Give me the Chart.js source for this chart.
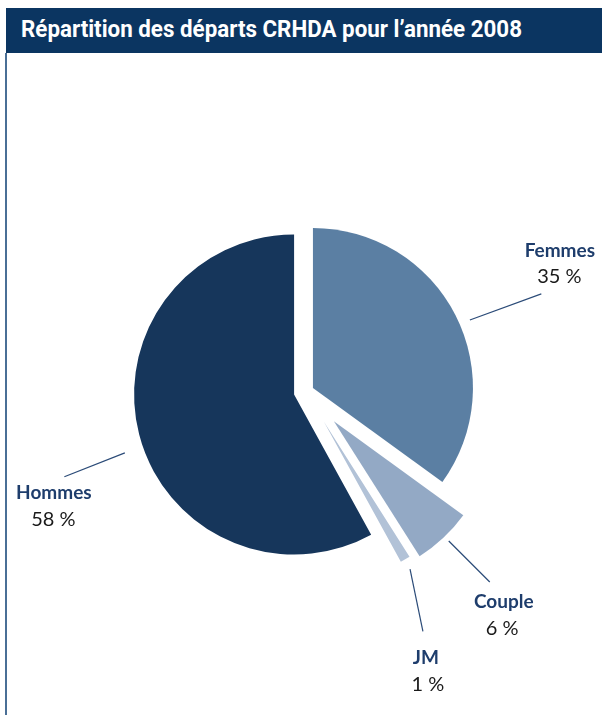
<!DOCTYPE html>
<html lang="fr">
<head>
<meta charset="utf-8">
<title>Répartition des départs CRHDA pour l’année 2008</title>
<script src="https://cdn.jsdelivr.net/npm/chart.js@4.4.1/dist/chart.umd.min.js"></script>
<style>
  html, body { margin: 0; padding: 0; background: #fff; }
  #page { position: relative; width: 602px; height: 715px; overflow: hidden; }
  #bandeau { position: absolute; left: 6px; top: 8px; width: 596px; height: 45px; background: #0b3561; }
  #titre { position: absolute; left: 21px; top: 18px; margin: 0; font: 700 23px/23px Roboto, "DejaVu Sans Condensed", sans-serif; color: #fff; white-space: nowrap; transform-origin: 0 0; }
  #filet { position: absolute; left: 5px; top: 53px; width: 2px; height: 662px; background: #4a6f96; }
  #graphique { position: absolute; left: 0; top: 0; }
</style>
</head>
<body>
<div id="page">
  <div id="bandeau"></div>
  <div id="titre">Répartition des départs CRHDA pour l’année 2008</div>
  <div id="filet"></div>
  <canvas id="graphique" width="602" height="715"></canvas>
</div>
<script>
// Données
const categories = ['Femmes', 'Couple', 'JM', 'Hommes'];
const valeurs = [35, 6, 1, 58];
const couleurs = ['#5b7fa3', '#93a9c5', '#b2c2d7', '#16365b'];
// éclatement des parts, en px le long de la bissectrice
const eclatement = [7.8, 40.7, 34.9, 12.3];
const RAYON = 160;

// position des filets et étiquettes (angles en degrés depuis le haut, sens horaire)
const reperes = [
  { a1: 66.6, r1: 171, a2: 67.6, r2: 247, nom: [18.5, -37], pct: [18, -11] },
  { a1: 136.2, r1: 166, a2: 135.9, r2: 224, nom: [14, 26], pct: [12.5, 53] },
  { a1: 149.7, r1: 171, a2: 154.7, r2: 232, nom: [3, 33], pct: [5, 60] },
  { a1: 251, r1: 179, a2: 250.3, r2: 244, nom: [-10.5, 22], pct: [-11, 49] }
];

// Titre : on le resserre pour imiter la police condensée
const titre = document.getElementById('titre');
const largeur = titre.getBoundingClientRect().width;
titre.style.transform = 'scaleX(' + (501 / largeur) + ')';

// l'offset de chart.js rétrécit les petites parts, on déplace les parts nous-mêmes
const eclate = {
  id: 'eclate',
  beforeDatasetsDraw(chart) {
    const a = chart.chartArea;
    const x0 = (a.left + a.right) / 2;
    const y0 = (a.top + a.bottom) / 2;
    chart.getDatasetMeta(0).data.forEach((arc, i) => {
      const milieu = (arc.startAngle + arc.endAngle) / 2;
      arc.x = x0 + Math.cos(milieu) * eclatement[i];
      arc.y = y0 + Math.sin(milieu) * eclatement[i];
    });
  }
};

const etiquettes = {
  id: 'etiquettes',
  afterDatasetsDraw(chart) {
    const ctx = chart.ctx;
    chart.getDatasetMeta(0).data.forEach((arc, i) => {
      const r = reperes[i];
      const pt = (a, d) => [arc.x + d * Math.sin(a * Math.PI / 180), arc.y - d * Math.cos(a * Math.PI / 180)];
      const p1 = pt(r.a1, r.r1);
      const p2 = pt(r.a2, r.r2);
      ctx.save();
      ctx.strokeStyle = '#2b4b78';
      ctx.lineWidth = 1.2;
      ctx.beginPath();
      ctx.moveTo(p1[0], p1[1]);
      ctx.lineTo(p2[0], p2[1]);
      ctx.stroke();
      ctx.textAlign = 'center';
      ctx.textBaseline = 'alphabetic';
      ctx.fillStyle = '#1e3d6c';
      ctx.font = '700 19px Lato, sans-serif';
      ctx.fillText(categories[i], p2[0] + r.nom[0], p2[1] + r.nom[1]);
      ctx.fillStyle = '#1a1a1a';
      ctx.font = '400 20px Lato, sans-serif';
      ctx.fillText(valeurs[i] + ' %', p2[0] + r.pct[0], p2[1] + r.pct[1]);
      ctx.restore();
    });
  }
};

new Chart(document.getElementById('graphique'), {
  type: 'pie',
  data: {
    labels: categories,
    datasets: [{
      data: valeurs,
      backgroundColor: couleurs,
      borderWidth: 0,
      radius: RAYON
    }]
  },
  options: {
    responsive: false,
    animation: false,
    events: [],
    radius: RAYON,
    layout: { padding: { left: 10, right: 0, top: 68, bottom: 0 } },
    plugins: {
      legend: { display: false },
      tooltip: { enabled: false }
    }
  },
  plugins: [eclate, etiquettes]
});
</script>
</body>
</html>
